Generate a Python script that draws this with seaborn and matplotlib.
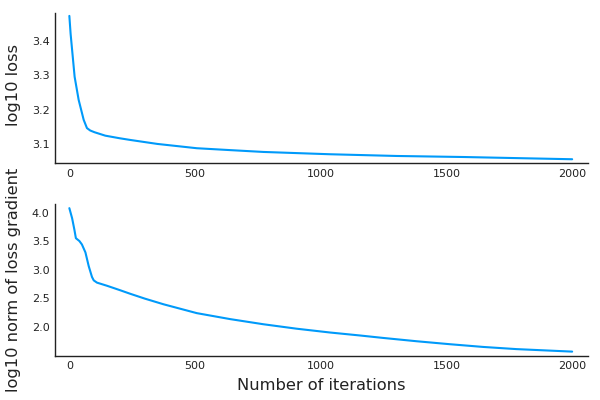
import matplotlib
matplotlib.use("Agg")
import matplotlib.pyplot as plt
import seaborn as sns
import pandas as pd

# ---- data ----
loss_iter = [0, 5, 11, 21, 37, 57, 70, 83, 100, 143, 200, 242, 350, 507,
             640, 772, 1037, 1302, 1567, 1832, 2000]
loss_log10 = [3.472, 3.42, 3.373, 3.295, 3.228, 3.17, 3.146, 3.139, 3.134,
              3.124, 3.1165, 3.1116, 3.100, 3.0875, 3.082, 3.0767, 3.070,
              3.065, 3.062, 3.058, 3.0555]

grad_iter = [0, 11, 20, 26, 40, 50, 64, 77, 90, 97, 110, 150, 200, 242,
             300, 375, 507, 640, 772, 904, 1037, 1156, 1248, 1381, 1513,
             1646, 1778, 2000]
grad_log10 = [4.077, 3.90, 3.70, 3.55, 3.50, 3.44, 3.30, 3.06, 2.87, 2.81,
              2.77, 2.715, 2.64, 2.575, 2.49, 2.39, 2.235, 2.13, 2.04, 1.962,
              1.895, 1.843, 1.80, 1.742, 1.69, 1.642, 1.604, 1.56]

top_yticks = [3.1, 3.2, 3.3, 3.4]
bot_yticks = [2.0, 2.5, 3.0, 3.5, 4.0]
xticks = [0, 500, 1000, 1500, 2000]

sns.set_theme(style="white")
plt.rcParams['font.family'] = ['DejaVu Sans']

color = "#009AFA"
fig = plt.figure(figsize=(6, 4), dpi=100)
ax1 = fig.add_axes([0.0917, 0.592, 0.8883, 0.376])
ax2 = fig.add_axes([0.0917, 0.111, 0.8883, 0.379])

df1 = pd.DataFrame({"iter": loss_iter, "val": loss_log10})
df2 = pd.DataFrame({"iter": grad_iter, "val": grad_log10})
sns.lineplot(data=df1, x="iter", y="val", ax=ax1, color=color, linewidth=1.5)
sns.lineplot(data=df2, x="iter", y="val", ax=ax2, color=color, linewidth=1.5)

for ax in (ax1, ax2):
    ax.set_xlim(-57, 2063)
    ax.set_xticks(xticks)
    ax.set_xticklabels([str(t) for t in xticks])
    sns.despine(ax=ax)
    for s in ("left", "bottom"):
        ax.spines[s].set_color("#222222")
        ax.spines[s].set_linewidth(1.0)
    ax.tick_params(direction="in", length=3, width=0.8, color="#222222",
                   labelsize=8, labelcolor="#222222", pad=4)
    ax.grid(False)

ax1.set_ylim(3.044, 3.481)
ax1.set_yticks(top_yticks)
ax1.set_yticklabels([f"{t:.1f}" for t in top_yticks])
ax1.set_xlabel("")
ax1.set_ylabel("log10 loss", fontsize=11.7, color="#222222")

ax2.set_ylim(1.49, 4.15)
ax2.set_yticks(bot_yticks)
ax2.set_yticklabels([f"{t:.1f}" for t in bot_yticks])
ax2.set_xlabel("Number of iterations", fontsize=11.7, color="#222222", labelpad=5)
ax2.set_ylabel("log10 norm of loss gradient", fontsize=11.7, color="#222222")

ax1.yaxis.set_label_coords(-0.063, 0.52)
ax2.yaxis.set_label_coords(-0.063, 0.5)

fig.savefig("out.png", dpi=100)
